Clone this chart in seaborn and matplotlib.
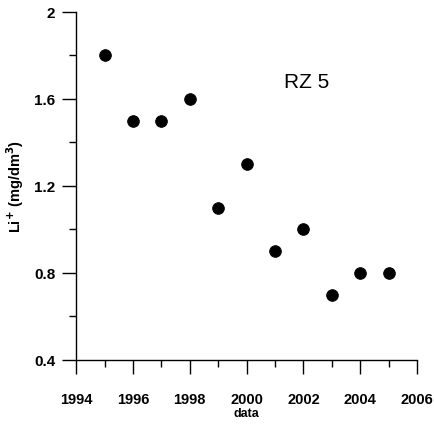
import matplotlib
matplotlib.use("Agg")
import matplotlib.pyplot as plt
import seaborn as sns
import pandas as pd
from matplotlib.ticker import MultipleLocator

years = [1995, 1996, 1997, 1998, 1999, 2000, 2001, 2002, 2003, 2004, 2005]
li = [1.8, 1.5, 1.5, 1.6, 1.1, 1.3, 0.9, 1.0, 0.7, 0.8, 0.8]
xticks = [1994, 1996, 1998, 2000, 2002, 2004, 2006]
yticks = [0.4, 0.8, 1.2, 1.6, 2.0]
ytick_labels = ["0.4", "0.8", "1.2", "1.6", "2"]

sns.set_theme(style="ticks")
plt.rcParams['font.family'] = ['Liberation Sans', 'DejaVu Sans']
plt.rcParams['font.weight'] = 'bold'
plt.rcParams['text.color'] = 'black'
plt.rcParams['axes.labelcolor'] = 'black'
plt.rcParams['xtick.color'] = 'black'
plt.rcParams['ytick.color'] = 'black'

df = pd.DataFrame({"data": years, "li": li})
fig = plt.figure(figsize=(4.35, 4.27), dpi=100)
ax = fig.add_axes([0.175, 0.155, 0.784, 0.815])
sns.scatterplot(data=df, x="data", y="li", color="black", s=70, edgecolor="black", ax=ax, clip_on=False)

ax.set_xlim(1994, 2006)
ax.set_ylim(0.4, 2.0)
ax.set_xticks(xticks)
ax.set_xticklabels([str(t) for t in xticks], fontsize=10.5, fontweight='bold')
ax.set_yticks(yticks)
ax.set_yticklabels(ytick_labels, fontsize=11, fontweight='bold')
ax.xaxis.set_minor_locator(MultipleLocator(1))
ax.yaxis.set_minor_locator(MultipleLocator(0.2))
ax.tick_params(which='major', direction='out', length=10, width=1)
ax.tick_params(axis='x', which='major', pad=13)
ax.tick_params(axis='y', which='major', pad=5)
ax.tick_params(which='minor', direction='out', length=5, width=1)
sns.despine(ax=ax)
for s in ['left', 'bottom']:
    ax.spines[s].set_color('black')
    ax.spines[s].set_linewidth(1)

ax.set_xlabel("data", fontsize=9, fontweight='bold', labelpad=1)
ax.set_ylabel("Li$^{+}$ (mg/dm$^{3}$)", fontsize=10.5, fontweight='bold', labelpad=6)
ax.text(2002.1, 1.68, "RZ 5", fontsize=15, fontweight='normal', ha='center', va='center')

fig.savefig("out.png", dpi=100)
